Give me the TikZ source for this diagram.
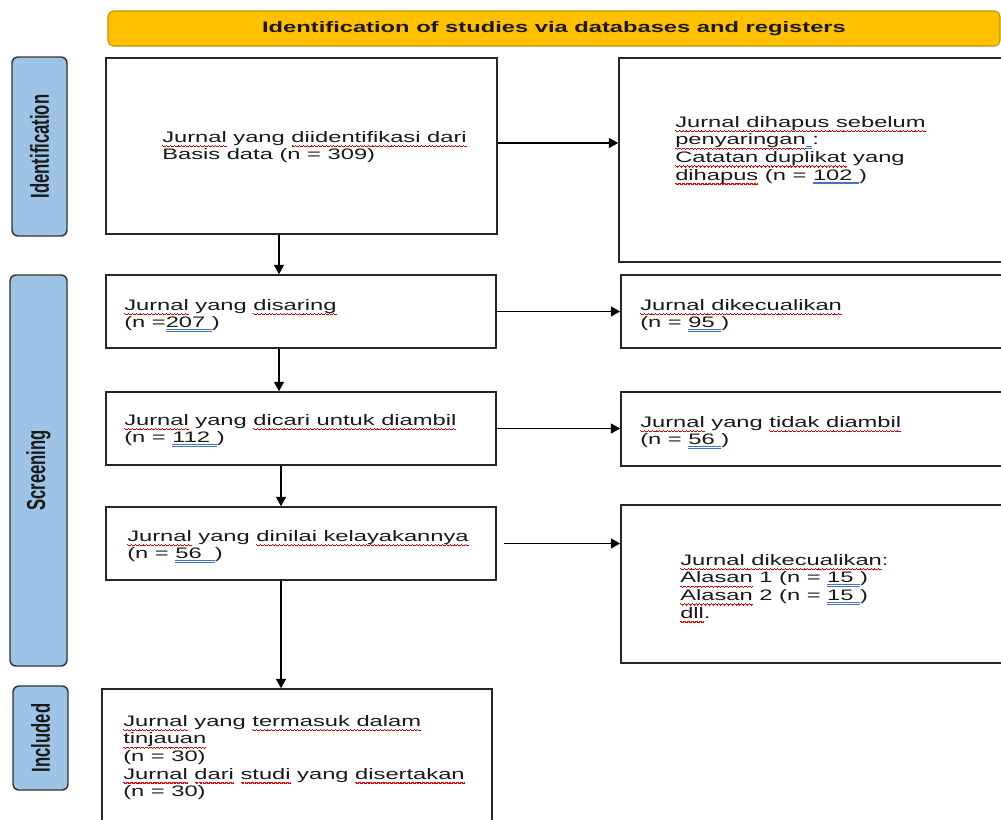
\documentclass[tikz,border=0pt]{standalone}
\usepackage{fontspec}
\setmainfont{Liberation Sans}[FakeStretch=1.56]
\newfontfamily\labfont{Liberation Sans}
\usepackage{graphicx}
\usetikzlibrary{arrows.meta,fit}
\definecolor{bannerfill}{HTML}{FFC000}
\definecolor{bannerdraw}{HTML}{C49400}
\definecolor{sidefill}{HTML}{9DC3E6}
\definecolor{sqred}{HTML}{E80000}
\definecolor{ulblue}{HTML}{4472C4}
\newsavebox\ulbox
\newcommand\wv{\hbox{\vrule width .7pt height -2.0pt depth 2.9pt\vrule width .7pt height -2.5pt depth 3.4pt\vrule width .7pt height -3.0pt depth 3.9pt\vrule width .7pt height -2.5pt depth 3.4pt}}
\newcommand\rw[1]{\sbox\ulbox{#1}\leavevmode\rlap{\textcolor{sqred}{\hbox to\wd\ulbox{\xleaders\wv\hfil}}}\usebox\ulbox}
\newcommand\bu[1]{\sbox\ulbox{#1}\leavevmode\rlap{\textcolor{ulblue}{\lower3pt\hbox{\vbox{\hrule width\wd\ulbox height .5pt\kern.8pt\hrule width\wd\ulbox height .5pt}}}}\usebox\ulbox}
\begin{document}
\begin{tikzpicture}[x=0.75pt,y=-0.75pt,
  box/.style={draw=black!85, line width=1.2pt, fill=white, inner sep=0pt},
  sidebar/.style={draw=black!80, line width=1.1pt, fill=sidefill, rounded corners=4.5pt, inner sep=0pt},
  bannerbox/.style={draw=bannerdraw, line width=0.8pt, fill=bannerfill, rounded corners=4pt, inner sep=0pt},
  txt/.style={anchor=north west, inner sep=0pt, align=left, font=\fontsize{11.4}{13.2}\selectfont, text=black!90},
  lab/.style={rotate=90, inner sep=0pt, font=\labfont\bfseries\fontsize{12.5}{14}\selectfont, text=black!90},
  arr/.style={-{Triangle[length=7pt,width=7.5pt]}, line width=1pt, draw=black}]
\useasboundingbox (0,0) rectangle (1001,819);
% banner
\node[bannerbox, fit={(108,11)(1000,46)}] (banner) {};
\node[font=\bfseries\fontsize{11.4}{13}\selectfont, inner sep=0pt, text=black!90] (title) at (banner.center) {Identification of studies via databases and registers};
% sidebars
\node[sidebar, fit={(12,57)(67,236)}] (s1) {};
\node[sidebar, fit={(10,275)(67,666)}] (s2) {};
\node[sidebar, fit={(13,686)(68,790)}] (s3) {};
\node[lab] (l1) at (s1.center) {\scalebox{1}[1.56]{Identification}};
\node[lab] (l2) at (s2.center) {\scalebox{1}[1.56]{Screening}};
\node[lab] (l3) at (s3.center) {\scalebox{1}[1.56]{Included}};
% boxes
\node[box, fit={(106,58)(497,234)}] (b1) {};
\node[box, fit={(619,58)(1012,262)}] (r1) {};
\node[box, fit={(106,275)(496,348)}] (b2) {};
\node[box, fit={(621,275)(1012,348)}] (r2) {};
\node[box, fit={(106,392)(496,465)}] (b3) {};
\node[box, fit={(621,392)(1012,466)}] (r3) {};
\node[box, fit={(106,507)(496,580)}] (b4) {};
\node[box, fit={(621,505)(1012,663)}] (r4) {};
\node[box, fit={(102,689)(492,830)}] (b5) {};
% texts
\node[txt] (t1) at (162,131) {\rw{Jurnal} yang \rw{diidentifikasi dari}\\Basis data (n = 309)};
\node[txt] (tr1) at (675,116) {\rw{Jurnal dihapus sebelum}\\\rw{penyaringan}\bu{\ }:\\\rw{Catatan duplikat} yang\\\rw{dihapus} (n = \bu{102\ })};
\node[txt] (t2) at (124,299) {\rw{Jurnal} yang \rw{disaring}\\(n =\bu{207\ })};
\node[txt] (tr2) at (640,299) {\rw{Jurnal dikecualikan}\\(n = \bu{95\ })};
\node[txt] (t3) at (124,414) {\rw{Jurnal} yang \rw{dicari untuk diambil}\\(n = \bu{112\ })};
\node[txt] (tr3) at (640,416) {\rw{Jurnal} yang \rw{tidak diambil}\\(n = \bu{56\ })};
\node[txt] (t4) at (127,530) {\rw{Jurnal} yang \rw{dinilai kelayakannya}\\(n = \bu{56\ \ })};
\node[txt] (tr4) at (680,554) {\rw{Jurnal dikecualikan}:\\\rw{Alasan} 1 (n = \bu{15\ })\\\rw{Alasan} 2 (n = \bu{15\ })\\\rw{dll}.};
\node[txt] (t5) at (123,715) {\rw{Jurnal} yang \rw{termasuk dalam}\\\rw{tinjauan}\\(n = 30)\\\rw{Jurnal} \rw{dari} \rw{studi} yang \rw{disertakan}\\(n = 30)};
% arrows
\coordinate (v1) at (279,0);
\coordinate (v3) at (281,0);
\coordinate (h1) at (0,143);
\draw[arr] (b1.east |- h1) -- (r1.west |- h1);
\draw[arr] (b2.east) -- (b2.east -| r2.west);
\draw[arr] (b3.east) -- (b3.east -| r3.west);
\draw[arr] ([xshift=5.25pt]b4.east) -- (b4.east -| r4.west);
\draw[arr] (b1.south -| v1) -- (b2.north -| v1);
\draw[arr] (b2.south -| v1) -- (b3.north -| v1);
\draw[arr] (b3.south -| v3) -- (b4.north -| v3);
\draw[arr] (b4.south -| v3) -- (b5.north -| v3);
\end{tikzpicture}
\end{document}
